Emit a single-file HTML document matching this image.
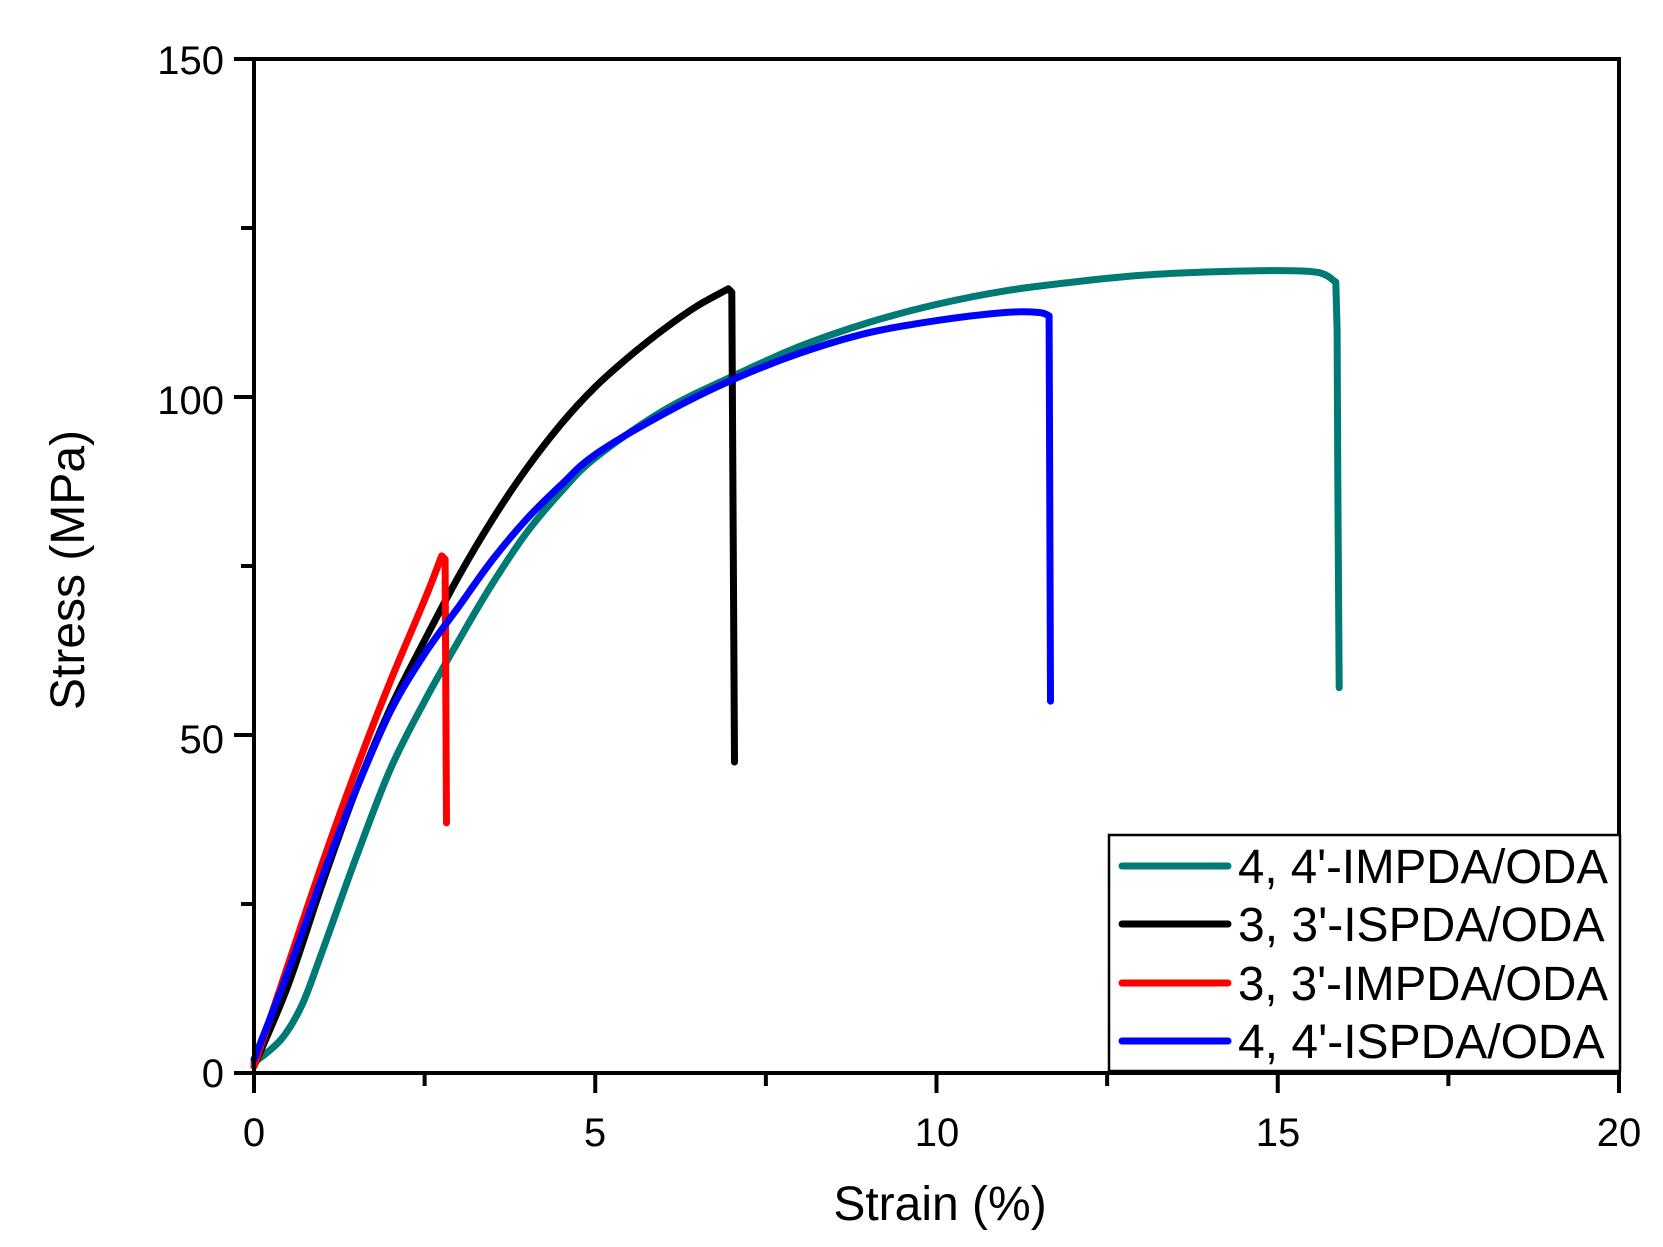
<!DOCTYPE html>
<html><head><meta charset="utf-8"><style>
html,body{margin:0;padding:0;background:#fff;}
svg{display:block;}
text{font-family:"Liberation Sans",Arial,sans-serif;fill:#000;}
</style></head><body>
<svg width="1663" height="1247" viewBox="0 0 1663 1247" xmlns="http://www.w3.org/2000/svg">
<g fill="none" stroke-linejoin="round" stroke-linecap="round" stroke-width="7">
<path id="teal" stroke="#007b73" d=""/>
<path id="black" stroke="#000" d=""/>
<path id="red" stroke="#ff0000" d=""/>
<path id="blue" stroke="#0000ff" d=""/>
</g>
<rect x="254" y="59" width="1365" height="1014" fill="none" stroke="#000" stroke-width="4"/>
<g stroke="#000" stroke-width="4" id="ticks"></g>
<g font-size="40" text-anchor="end">
<text x="224" y="1087">0</text>
<text x="224" y="753">50</text>
<text x="224" y="414">100</text>
<text x="224" y="74">150</text>
</g>
<g font-size="40" text-anchor="middle">
<text x="254" y="1146">0</text>
<text x="595" y="1146">5</text>
<text x="937" y="1146">10</text>
<text x="1278" y="1146">15</text>
<text x="1619" y="1146">20</text>
</g>
<text x="940" y="1220" font-size="48" text-anchor="middle">Strain (%)</text>
<text transform="translate(84,570) rotate(-90)" font-size="48" text-anchor="middle">Stress (MPa)</text>
<rect x="1109" y="835" width="511" height="236" fill="#fff" stroke="#000" stroke-width="2.5"/>
<g stroke-width="7" stroke-linecap="round">
<line x1="1122" y1="866" x2="1228" y2="866" stroke="#007b73"/>
<line x1="1122" y1="924" x2="1228" y2="924" stroke="#000"/>
<line x1="1122" y1="983" x2="1228" y2="983" stroke="#ff0000"/>
<line x1="1122" y1="1041" x2="1228" y2="1041" stroke="#0000ff"/>
</g>
<g font-size="48">
<text x="1238" y="883" textLength="370" lengthAdjust="spacingAndGlyphs">4, 4'-IMPDA/ODA</text>
<text x="1238" y="941">3, 3'-ISPDA/ODA</text>
<text x="1238" y="1000" textLength="370" lengthAdjust="spacingAndGlyphs">3, 3'-IMPDA/ODA</text>
<text x="1238" y="1058">4, 4'-ISPDA/ODA</text>
</g>
</svg>
<script>
const X=x=>254+68.25*x, Y=y=>1073-6.76*y;
const d={
teal:[[[0,1.5],[0.4,5],[0.7,10],[1,18],[1.5,32],[2,45],[2.5,55],[3,64],[3.5,72.5],[4,80],[4.5,86],[5,91],[6,98],[7,103],[8,107.5],[9,111],[10,113.7],[11,115.7],[12,117],[13,118],[14,118.5],[15,118.7],[15.6,118.4],[15.85,117]],[[15.87,110],[15.88,88],[15.9,57]]],
black:[[[0,1],[0.5,13],[1,28],[1.5,42],[2,54],[2.5,64],[3,73.5],[3.5,82],[4,89.5],[4.5,96],[5,101.5],[5.5,106],[6,110],[6.5,113.5],[6.95,116]],[[7.0,115.5],[7.02,82],[7.04,46]]],
red:[[[0,1],[0.5,16],[1,31],[1.5,45],[2,58],[2.5,70],[2.75,76.5]],[[2.8,76],[2.82,37]]],
blue:[[[0,2],[0.5,15],[1,29],[1.5,42],[2,53.5],[2.5,62],[3,69],[3.5,76],[4,82],[4.5,87],[5,91.5],[6,97.5],[7,102.5],[8,106.5],[9,109.5],[10,111.3],[11,112.5],[11.5,112.5],[11.65,112]],[[11.67,55]]]};
function cr(pts){let p=pts.map(a=>[X(a[0]),Y(a[1])]);let s='M'+p[0].join(',');
for(let i=0;i<p.length-1;i++){const p0=p[i-1]||p[i],p1=p[i],p2=p[i+1],p3=p[i+2]||p2;
s+=`C${(p1[0]+(p2[0]-p0[0])/6).toFixed(1)},${(p1[1]+(p2[1]-p0[1])/6).toFixed(1)} ${(p2[0]-(p3[0]-p1[0])/6).toFixed(1)},${(p2[1]-(p3[1]-p1[1])/6).toFixed(1)} ${p2[0].toFixed(1)},${p2[1].toFixed(1)}`;}return s;}
for(const k in d){let s=cr(d[k][0]);for(const q of d[k][1])s+='L'+X(q[0]).toFixed(1)+','+Y(q[1]).toFixed(1);document.getElementById(k).setAttribute('d',s);}
let t='';
for(let i=0;i<=8;i++){const x=X(i*2.5);t+=`<line x1="${x}" y1="1073" x2="${x}" y2="${i%2?1086:1093}"/>`;}
for(let i=0;i<=6;i++){const y=Y(i*25);t+=`<line x1="254" y1="${y}" x2="${i%2?241:234}" y2="${y}"/>`;}
document.getElementById('ticks').innerHTML=t;
</script>
</body></html>
